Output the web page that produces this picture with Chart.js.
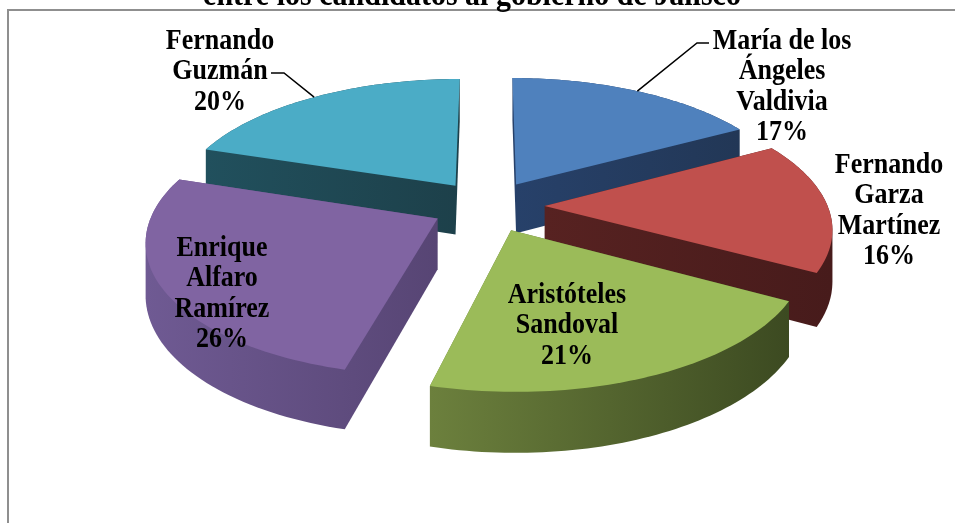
<!DOCTYPE html>
<html>
<head>
<meta charset="utf-8">
<script src="https://cdn.jsdelivr.net/npm/chart.js@4.4.0/dist/chart.umd.min.js"></script>
<style>
    html, body { margin: 0; padding: 0; background: #fff; overflow: hidden; }
    #wrap { position: relative; width: 955px; height: 523px; }
    #frame { position: absolute; left: 7px; top: 9px; width: 1200px; height: 900px;
             border-left: 2px solid #8f8f8f; border-top: 2px solid #8f8f8f; }
    canvas { position: absolute; left: 0; top: 0; }
</style>
</head>
<body>
<div id="wrap">
    <div id="frame"></div>
    <canvas id="pieChart" width="955" height="523"></canvas>
</div>
<script>
// data
var titleText = 'entre los candidatos al gobierno de Jalisco';
var candidates = [
    ['María de los', 'Ángeles', 'Valdivia'],
    ['Fernando', 'Garza', 'Martínez'],
    ['Aristóteles', 'Sandoval'],
    ['Enrique', 'Alfaro', 'Ramírez'],
    ['Fernando', 'Guzmán']
];
var shares = [17, 16, 21, 26, 20];

// styles
var topColors = ['#4F81BD', '#C0504D', '#9BBB59', '#8064A2', '#4BACC6'];
var sideColors = [
    ['#27416A', '#223756'],
    ['#572221', '#471B1B'],
    ['#6C803D', '#3C4A21'],
    ['#6F5A93', '#574574'],
    ['#21505D', '#1D404A']
];
// label layout: centre x, first line y
var labelAt = [[782, 41], [889, 165], [567, 295], [222, 248], [220, 41]];
var leaderAt = { 0: [[709, 43], [697, 43]], 4: [[271, 73], [284, 73]] };
var lineHeight = 30.5;

// perspective view of the pie plane
var view = { x0: 488, y0: 206, a: 283, b: 128.7, k: 0.1525, h: 50, explode: 0.2 };

function project(u, v, drop) {
    var w = 1 - view.k * v;
    return [view.x0 + view.a * u / w, view.y0 + (view.b * v + view.h * drop) / w];
}

function slicePoint(el, angle, t, drop) {
    var r = el.outerRadius;
    var mid = (el.startAngle + el.endAngle) / 2;
    var dx = Math.cos(angle) * r * t + Math.cos(mid) * r * view.explode;
    var dy = Math.sin(angle) * r * t + Math.sin(mid) * r * view.explode;
    return project(dx / r, dy / r, drop);
}

function outline(el, drop) {
    var pts = [slicePoint(el, 0, 0, drop)];
    var steps = 60;
    for (var i = 0; i <= steps; i++) {
        var a = el.startAngle + (el.endAngle - el.startAngle) * i / steps;
        pts.push(slicePoint(el, a, 1, drop));
    }
    return pts;
}

function hull(points) {
    var p = points.slice().sort(function(a, b) { return a[0] - b[0] || a[1] - b[1]; });
    function cross(o, a, b) { return (a[0] - o[0]) * (b[1] - o[1]) - (a[1] - o[1]) * (b[0] - o[0]); }
    var lower = [], upper = [];
    p.forEach(function(pt) {
        while (lower.length >= 2 && cross(lower[lower.length - 2], lower[lower.length - 1], pt) <= 0) lower.pop();
        lower.push(pt);
    });
    for (var i = p.length - 1; i >= 0; i--) {
        while (upper.length >= 2 && cross(upper[upper.length - 2], upper[upper.length - 1], p[i]) <= 0) upper.pop();
        upper.push(p[i]);
    }
    upper.pop(); lower.pop();
    return lower.concat(upper);
}

function fillPoly(ctx, pts, style) {
    ctx.beginPath();
    ctx.moveTo(pts[0][0], pts[0][1]);
    for (var i = 1; i < pts.length; i++) ctx.lineTo(pts[i][0], pts[i][1]);
    ctx.closePath();
    ctx.fillStyle = style;
    ctx.fill();
}

var pie3d = {
    id: 'pie3d',
    beforeDatasetsDraw: function(chart) {
        var ctx = chart.ctx;
        var arcs = chart.getDatasetMeta(0).data;
        var order = arcs.map(function(el, i) { return i; });
        order.sort(function(i, j) {
            var mi = (arcs[i].startAngle + arcs[i].endAngle) / 2;
            var mj = (arcs[j].startAngle + arcs[j].endAngle) / 2;
            return Math.sin(mi) - Math.sin(mj);
        });
        ctx.save();
        order.forEach(function(i) {
            var el = arcs[i];
            var top = outline(el, 0);
            var bottom = outline(el, 1);
            var body = hull(top.concat(bottom));
            var xs = body.map(function(p) { return p[0]; });
            var g = ctx.createLinearGradient(Math.min.apply(null, xs), 0, Math.max.apply(null, xs), 0);
            g.addColorStop(0, sideColors[i][0]);
            g.addColorStop(1, sideColors[i][1]);
            fillPoly(ctx, body, g);
            fillPoly(ctx, top, topColors[i]);
        });
        ctx.restore();
        return false;
    },
    afterDraw: function(chart) {
        var ctx = chart.ctx;
        var arcs = chart.getDatasetMeta(0).data;
        var total = shares.reduce(function(s, v) { return s + v; }, 0);
        ctx.save();
        ctx.fillStyle = '#000';
        ctx.textAlign = 'center';

        ctx.textBaseline = 'alphabetic';
        ctx.font = 'bold 30px "Liberation Serif", "Times New Roman", serif';
        ctx.save();
        ctx.translate(472, 5);
        ctx.scale(1, 1.15);
        ctx.fillText(titleText, 0, 0);
        ctx.restore();

        ctx.textBaseline = 'middle';
        ctx.font = 'bold 26px "Liberation Serif", "Times New Roman", serif';
        candidates.forEach(function(lines, i) {
            var all = lines.concat([Math.round(shares[i] / total * 100) + '%']);
            all.forEach(function(txt, j) {
                ctx.save();
                ctx.translate(labelAt[i][0], labelAt[i][1] + j * lineHeight);
                ctx.scale(1, 1.15);
                ctx.fillText(txt, 0, 0);
                ctx.restore();
            });
            if (leaderAt[i]) {
                var el = arcs[i];
                var end = slicePoint(el, (el.startAngle + el.endAngle) / 2, 1, 0);
                ctx.beginPath();
                ctx.moveTo(leaderAt[i][0][0], leaderAt[i][0][1]);
                ctx.lineTo(leaderAt[i][1][0], leaderAt[i][1][1]);
                ctx.lineTo(end[0], end[1]);
                ctx.strokeStyle = '#000';
                ctx.lineWidth = 1.5;
                ctx.stroke();
            }
        });
        ctx.restore();
    }
};

var pieChart = new Chart(document.getElementById('pieChart').getContext('2d'), {
    type: 'pie',
    data: {
        labels: candidates.map(function(c) { return c.join(' '); }),
        datasets: [{ data: shares, backgroundColor: topColors, borderWidth: 0 }]
    },
    options: {
        responsive: false,
        animation: false,
        plugins: { legend: { display: false }, tooltip: { enabled: false }, title: { display: false } }
    },
    plugins: [pie3d]
});
</script>
</body>
</html>
